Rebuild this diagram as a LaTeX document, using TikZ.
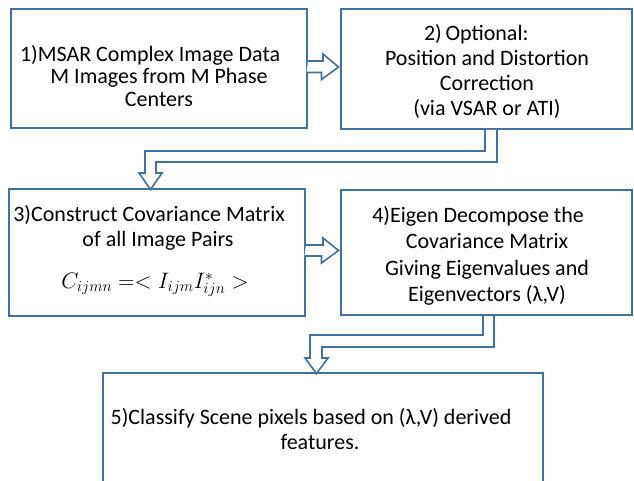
\documentclass[tikz,border=0pt]{standalone}
\usepackage{fontspec}
\setmainfont{Carlito}
\usetikzlibrary{calc}
\definecolor{bordblue}{HTML}{41719C}
\tikzset{
  x=1pt, y=-1pt,
  stepbox/.style={draw=bordblue, line width=2pt, fill=white, rectangle, inner sep=0pt},
  txt/.style={font=\fontsize{22}{25}\selectfont, align=center, inner sep=0pt, text=black},
  blockarrow/.style={draw=bordblue, line width=1.6pt, fill=white, line join=miter}
}
\newcommand{\hangnum}[1]{\llap{#1}}
\begin{document}
\begin{tikzpicture}
\useasboundingbox (0,0) rectangle (634,481);
\clip (0,0) rectangle (634,481);
\fill[white] (0,0) rectangle (634,481);
% boxes
\node[stepbox, minimum width=296pt, minimum height=119pt] (b1) at (159,68.5) {};
\node[stepbox, minimum width=291pt, minimum height=120pt] (b2) at (486,69) {};
\node[stepbox, minimum width=296pt, minimum height=126pt] (b3) at (157,252.5) {};
\node[stepbox, minimum width=291pt, minimum height=125pt] (b4) at (486,252.5) {};
\node[stepbox, minimum width=440pt, minimum height=140pt] (b5) at (323,443) {};
% texts
\node[txt, font=\fontsize{22}{22.5}\selectfont] (t1) at (159,76) {\hangnum{1)}MSAR Complex Image Data\\ M Images from M Phase\\ Centers};
\node[txt] (t2) at (487,71) {\hangnum{2)\,}Optional:\\ Position and Distortion\\ Correction\\ (via VSAR or ATI)};
\node[txt] (t3) at (158,228) {\hangnum{3)}Construct Covariance Matrix\\ of all Image Pairs};
\node[txt, font=\fontsize{20.74}{24}\selectfont, scale=1.08, transform shape] (t3m) at (155,285) {$C_{ijmn} =< I_{ijm} I^*_{ijn} >$};
\node[txt, font=\fontsize{22}{26.5}\selectfont] (t4) at (487,256) {\hangnum{4)}Eigen Decompose the\\ Covariance Matrix\\ Giving Eigenvalues and\\ Eigenvectors (λ,V)};
\node[txt] (t5) at (320,429) {\hangnum{5)}Classify Scene pixels based on (λ,V) derived\\ features.};
% arrows
\path[blockarrow] ($(b1.east)+(0,-7.5)$) -- ++(15,0) -- ++(0,-7) -- ($(b2.west)+(-1,-2)$) -- ++(-17,12.5) -- ++(0,-7) -- ++(-15,0);
\path[blockarrow] ($(b3.east)+(0,-7.5)$) -- ++(17,0) -- ++(0,-7) -- ($(b4.west)+(-1,-2)$) -- ++(-17,12.5) -- ++(0,-7) -- ++(-17,0);
\path[blockarrow] ($(b2.south)+(-1,0)$) -- ++(0,21) -- ++(-340,0) -- ++(0,22) -- ++(-6,0) -- ++(11.5,16.5) -- ++(11.5,-16.5) -- ++(-6,0) -- ++(0,-11) -- ++(341,0) -- ++(0,-32);
\path[blockarrow] ($(b4.south)+(-3,0)$) -- ++(0,19) -- ++(-173,0) -- ++(0,23) -- ++(-5,0) -- ++(11.5,15.5) -- ++(11.5,-15.5) -- ++(-6,0) -- ++(0,-11) -- ++(172,0) -- ++(0,-31);
\end{tikzpicture}
\end{document}
